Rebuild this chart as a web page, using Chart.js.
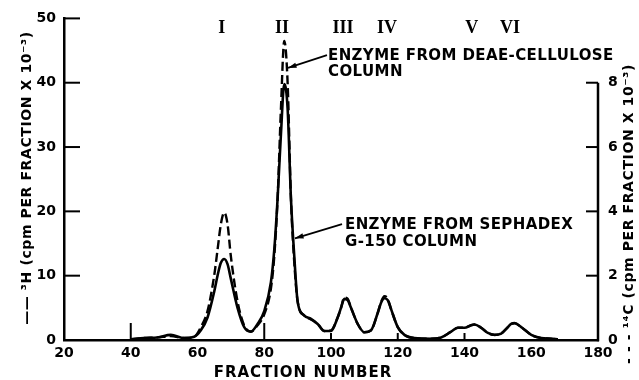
<!DOCTYPE html>
<html>
<head>
<meta charset="utf-8">
<title>Fraction profile</title>
<style>
  body { margin: 0; background: #fff; }
  canvas { display: block; }
</style>
</head>
<body>
<canvas id="chart" width="639" height="380"></canvas>
<script src="https://cdn.jsdelivr.net/npm/chart.js@4/dist/chart.umd.min.js"></script>
<script>
// fraction number (x)
const fractions = [40, 44, 48, 52, 56, 59, 61, 63, 65, 66, 67, 68, 69, 70, 72, 74, 76, 78, 80, 82, 83, 84, 85, 86, 87, 88, 89, 90, 92, 94, 96, 98, 100, 102, 103, 104, 105, 106, 108, 110, 112, 114, 115, 116, 117, 118, 120, 122, 125, 130, 133, 136, 138, 140, 142, 143, 145, 147, 149, 151, 153, 154, 155, 157, 160, 163, 166, 168];
// 3H, cpm per fraction x 10^-3 (left axis, solid)
const h3Counts = [0.1, 0.3, 0.4, 0.8, 0.3, 0.5, 1.5, 3.5, 7.5, 10, 12, 12.6, 11.8, 9.5, 5, 2, 1.3, 2.5, 4.5, 9, 14, 22, 32, 39.8, 36, 22, 13, 6, 3.8, 3.3, 2.5, 1.4, 1.4, 3.5, 5, 6.4, 6.2, 5, 2.5, 1.2, 1.5, 4.2, 5.8, 6.5, 6.2, 4.8, 2, 0.8, 0.3, 0.2, 0.4, 1.3, 1.9, 1.9, 2.3, 2.4, 1.9, 1.1, 0.8, 1.0, 2.0, 2.5, 2.6, 2.0, 0.8, 0.3, 0.2, 0.1];
// 14C, cpm per fraction x 10^-3 (right axis, dashed)
const c14Counts = [0.02, 0.06, 0.08, 0.12, 0.06, 0.1, 0.4, 0.9, 2.0, 2.8, 3.6, 3.96, 3.6, 2.6, 1.2, 0.45, 0.26, 0.46, 0.8, 1.6, 2.6, 4.4, 7.2, 9.3, 8.0, 4.4, 2.4, 1.2, 0.76, 0.64, 0.5, 0.28, 0.3, 0.7, 1.0, 1.32, 1.28, 1.0, 0.5, 0.24, 0.3, 0.84, 1.18, 1.36, 1.28, 0.96, 0.4, 0.16, 0.06, 0.04, 0.08, 0.26, 0.38, 0.38, 0.46, 0.48, 0.38, 0.22, 0.16, 0.2, 0.4, 0.5, 0.53, 0.4, 0.16, 0.06, 0.04, 0.02];

const peakNames = ['I', 'II', 'III', 'IV', 'V', 'VI'];
const peakFractions = [67.3, 85.3, 103.6, 116.8, 142.2, 153.6];

const FONT = 'DejaVu Sans';

function arrow(ctx, x1, y1, x2, y2) {
  ctx.beginPath();
  ctx.moveTo(x1, y1);
  ctx.lineTo(x2, y2);
  ctx.stroke();
  const a = Math.atan2(y2 - y1, x2 - x1);
  ctx.beginPath();
  ctx.moveTo(x2, y2);
  ctx.lineTo(x2 - 9 * Math.cos(a - 0.3), y2 - 9 * Math.sin(a - 0.3));
  ctx.lineTo(x2 - 9 * Math.cos(a + 0.3), y2 - 9 * Math.sin(a + 0.3));
  ctx.closePath();
  ctx.fill();
}

const paperPlugin = {
  id: 'paper',
  afterDraw(chart) {
    const { ctx, chartArea: area } = chart;
    const { x, y, y2 } = chart.scales;
    ctx.save();
    ctx.strokeStyle = '#000';
    ctx.fillStyle = '#000';
    ctx.lineWidth = 2.5;

    // right axis runs only 0..8
    ctx.beginPath();
    ctx.moveTo(area.right, y2.getPixelForValue(8));
    ctx.lineTo(area.right, area.bottom + 1.25);
    ctx.stroke();

    // inward tick marks
    ctx.lineWidth = 2;
    [10, 20, 30, 40, 50].forEach(v => {
      const py = y.getPixelForValue(v);
      ctx.beginPath(); ctx.moveTo(area.left, py); ctx.lineTo(area.left + 16, py); ctx.stroke();
    });
    [2, 4, 6, 8].forEach(v => {
      const py = y2.getPixelForValue(v);
      ctx.beginPath(); ctx.moveTo(area.right, py); ctx.lineTo(area.right - 12, py); ctx.stroke();
    });
    [[40, 17], [80, 17], [100, 7], [120, 7], [140, 7]].forEach(([v, len]) => {
      const px = x.getPixelForValue(v);
      ctx.beginPath(); ctx.moveTo(px, area.bottom); ctx.lineTo(px, area.bottom - len); ctx.stroke();
    });

    // peak numerals
    ctx.font = 'bold 18px "Liberation Serif"';
    ctx.textAlign = 'center';
    ctx.textBaseline = 'alphabetic';
    peakNames.forEach((n, i) => {
      ctx.fillText(n, x.getPixelForValue(peakFractions[i]), 33);
    });

    // annotations
    ctx.font = 'bold 15px ' + FONT;
    ctx.letterSpacing = '0.4px';
    ctx.textAlign = 'left';
    ctx.fillText('ENZYME FROM DEAE-CELLULOSE', x.getPixelForValue(99.1), y.getPixelForValue(43.5));
    ctx.fillText('COLUMN', x.getPixelForValue(99.1), y.getPixelForValue(41.0));
    ctx.fillText('ENZYME FROM SEPHADEX', x.getPixelForValue(104.2), y.getPixelForValue(17.2));
    ctx.fillText('G-150 COLUMN', x.getPixelForValue(104.2), y.getPixelForValue(14.6));
    ctx.lineWidth = 1.8;
    arrow(ctx, x.getPixelForValue(98.8), y.getPixelForValue(44.3), x.getPixelForValue(87.1), y.getPixelForValue(42.3));
    arrow(ctx, x.getPixelForValue(103.3), y.getPixelForValue(18), x.getPixelForValue(89.2), y.getPixelForValue(15.8));

    // axis titles
    ctx.textAlign = 'center';
    ctx.letterSpacing = '1px';
    ctx.fillText('FRACTION NUMBER', x.getPixelForValue(91.6), 377);

    ctx.font = 'bold 14px ' + FONT;
    ctx.letterSpacing = '0.6px';
    ctx.textBaseline = 'middle';
    ctx.save();
    ctx.translate(27, 178);
    ctx.rotate(-Math.PI / 2);
    ctx.fillText('—— ³H (cpm PER FRACTION X 10⁻³)', 0, 0);
    ctx.restore();
    ctx.save();
    ctx.translate(629, 214);
    ctx.rotate(-Math.PI / 2);
    ctx.fillText('- - - ¹⁴C (cpm PER FRACTION X 10⁻³)', 0, 0);
    ctx.restore();

    ctx.restore();
  }
};

const tickFont = { family: FONT, size: 14, weight: 'bold' };

new Chart(document.getElementById('chart'), {
  type: 'line',
  data: {
    datasets: [
      {
        label: '3H',
        data: fractions.map((f, i) => ({ x: f, y: h3Counts[i] })),
        yAxisID: 'y',
        borderColor: '#000',
        borderWidth: 2.6,
        pointRadius: 0,
        cubicInterpolationMode: 'monotone',
        fill: false
      },
      {
        label: '14C',
        data: fractions.map((f, i) => ({ x: f, y: c14Counts[i] })),
        yAxisID: 'y2',
        borderColor: '#000',
        borderWidth: 2.4,
        borderDash: [9, 4],
        pointRadius: 0,
        cubicInterpolationMode: 'monotone',
        fill: false
      }
    ]
  },
  options: {
    responsive: false,
    animation: false,
    layout: { padding: { top: 15, left: 0, right: 0, bottom: 0 } },
    plugins: { legend: { display: false }, tooltip: { enabled: false } },
    scales: {
      x: {
        type: 'linear', min: 20, max: 180,
        afterFit: s => { s.height = 40; },
        ticks: { stepSize: 20, padding: 5, color: '#000', font: tickFont, maxRotation: 0 },
        grid: { display: false, drawTicks: false },
        border: { color: '#000', width: 2.5 }
      },
      y: {
        position: 'left', min: 0, max: 50,
        afterFit: s => { s.width = 64; },
        ticks: { stepSize: 10, padding: 8, color: '#000', font: tickFont },
        grid: { display: false, drawTicks: false },
        border: { color: '#000', width: 2.5 }
      },
      y2: {
        position: 'right', min: 0, max: 10,
        afterFit: s => { s.width = 41; },
        ticks: { stepSize: 2, padding: 10, color: '#000', font: tickFont, callback: v => (v <= 8 ? v : '') },
        grid: { display: false, drawTicks: false },
        border: { display: false }
      }
    }
  },
  plugins: [paperPlugin]
});
</script>
</body>
</html>
